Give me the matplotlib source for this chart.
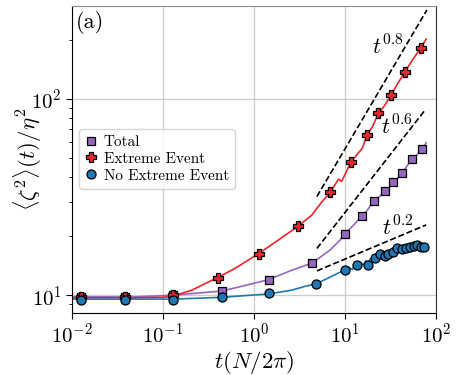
import matplotlib
matplotlib.use('Agg')
import matplotlib.pyplot as plt
from matplotlib.ticker import NullLocator
import numpy as np

plt.rcParams['font.family'] = 'serif'
plt.rcParams['font.serif'] = ['cmr10']
plt.rcParams['mathtext.fontset'] = 'cm'
plt.rcParams['axes.formatter.use_mathtext'] = True

# markers
t_total = [0.0127, 0.0386, 0.131, 0.446, 1.45, 4.39, 9.93, 15.3, 20.6, 27.6, 34.1, 42.1, 54.2, 71.0]
z_total = [9.8, 9.8, 10.0, 10.5, 12.0, 14.6, 20.5, 25.3, 30.2, 34.0, 37.6, 41.8, 49.2, 55.6]

t_ext = [0.0127, 0.0386, 0.131, 0.401, 1.13, 3.04, 6.93, 11.7, 17.4, 23.3, 32.1, 45.8, 67.8]
z_ext = [9.8, 9.8, 10.0, 12.3, 16.3, 22.4, 33.5, 47.9, 65.5, 84.5, 104.8, 137.8, 181.4]

t_noext = [0.0127, 0.0386, 0.131, 0.446, 1.45, 4.77, 9.93, 13.7, 17.7, 21.4, 24.3, 27.6,
           30.0, 33.6, 37.7, 42.1, 47.0, 52.0, 57.5, 62.5, 67.8, 74.6]
z_noext = [9.5, 9.5, 9.5, 9.8, 10.2, 11.4, 13.4, 14.2, 14.2, 15.4, 16.3, 15.8,
           16.2, 16.6, 17.3, 17.1, 17.4, 17.6, 17.8, 18.1, 17.5, 17.6]

# lines
lt_ext = [0.01, 0.05, 0.1, 0.131, 0.208, 0.401, 0.624, 1.13, 1.86, 3.04, 4.33, 5.58, 6.93,
          8.5, 9.2, 11.7, 14.0, 15.5, 17.4, 20.0, 23.3, 27.0, 32.1, 38.0, 45.8, 55.0, 67.8, 77.9]
lz_ext = [9.7, 9.7, 9.75, 9.9, 10.6, 12.3, 13.7, 16.3, 19.1, 22.4, 25.6, 29.9, 33.5,
          39.0, 38.0, 47.9, 53.0, 56.0, 65.5, 72.0, 84.5, 92.0, 104.8, 120.0, 137.8, 158.0, 181.4, 202.0]

lt_total = [0.01, 0.05, 0.131, 0.446, 0.738, 1.45, 2.61, 4.39, 6.88, 8.85, 9.93, 12.5, 15.3,
            17.5, 20.6, 24.0, 27.6, 31.0, 34.1, 38.0, 42.1, 48.0, 54.2, 62.0, 71.0, 77.9]
lz_total = [9.8, 9.8, 10.0, 10.5, 11.1, 12.0, 13.4, 14.6, 17.0, 19.1, 20.5, 22.8, 25.3,
            27.0, 30.2, 31.8, 34.0, 35.5, 37.6, 39.5, 41.8, 45.5, 49.2, 52.0, 55.6, 59.8]

lt_noext = [0.01, 0.05, 0.131, 0.446, 1.45, 2.6, 3.66, 4.77, 5.81, 7.48, 9.5, 11.0, 12.0,
            13.0, 14.0, 15.0, 16.0, 17.0, 18.0, 19.0, 20.0, 22.0, 24.0, 26.0, 28.0, 30.0,
            33.0, 36.0, 40.0, 44.0, 48.0, 52.0, 56.0, 60.0, 65.0, 70.0, 75.0, 78.0]
lz_noext = [9.55, 9.55, 9.55, 9.75, 10.15, 10.6, 11.1, 11.4, 11.9, 12.6, 13.3, 13.9, 13.5,
            14.4, 14.0, 14.6, 14.3, 15.0, 14.7, 15.3, 15.0, 15.6, 15.9, 15.6, 16.2, 16.0,
            16.6, 16.4, 17.0, 16.8, 17.4, 17.2, 17.7, 17.4, 17.9, 17.6, 18.0, 17.7]

# guide lines: t range, end values, labels
guide_t = [[4.92, 79.3], [4.92, 75.9], [4.92, 77.9]]
guide_z = [[31.8, 284.0], [17.3, 87.9], [13.3, 22.8]]
guide_lab = [r'$t^{0.8}$', r'$t^{0.6}$', r'$t^{0.2}$']
guide_pos = [(29.8, 184.0), (37.4, 72.0), (38.2, 22.0)]

c_red = '#e8252b'
c_purple = '#9467bd'
c_blue = '#1f77b4'

fig = plt.figure(figsize=(4.59, 3.75), dpi=100)
ax = fig.add_axes([0.156, 0.165, 0.794, 0.820])

ax.plot(lt_total, lz_total, '-', color=c_purple, lw=1.2)
ax.plot(lt_ext, lz_ext, '-', color=c_red, lw=1.2)
ax.plot(lt_noext, lz_noext, '-', color=c_blue, lw=1.2)

ax.plot(t_total, z_total, 's', color=c_purple, mec='k', mew=0.9, ms=6, ls='none', label='Total')
ax.plot(t_ext, z_ext, 'P', color=c_red, mec='k', mew=0.9, ms=6.5, ls='none', label='Extreme Event')
ax.plot(t_noext, z_noext, 'o', color=c_blue, mec='k', mew=0.9, ms=6.5, ls='none', label='No Extreme Event')

for gt, gz, lab, pos in zip(guide_t, guide_z, guide_lab, guide_pos):
    ax.plot(gt, gz, '--', color='k', lw=1.2)
    ax.text(pos[0], pos[1], lab, fontsize=16, ha='center', va='center')

ax.set_xscale('log')
ax.set_yscale('log')
ax.set_xlim(1e-2, 1e2)
ax.set_ylim(8.1, 299)
ax.xaxis.set_minor_locator(NullLocator())
ax.grid(True, which='major', color='#cccccc', lw=0.9)
ax.set_axisbelow(True)
ax.spines['top'].set_color('0.55')
ax.spines['right'].set_color('0.2')

ax.tick_params(axis='both', which='major', labelsize=15, length=4, direction='out', pad=3)
ax.tick_params(axis='y', which='minor', length=2.5)

ax.set_xlabel(r'$t(N/2\pi)$', fontsize=16.5, labelpad=1)
ax.set_ylabel(r'$\langle \zeta^2 \rangle (t)/\eta^2$', fontsize=16.5)
ax.yaxis.set_label_coords(-0.075, 0.5)

ax.text(0.051, 0.944, '(a)', transform=ax.transAxes, fontsize=16, ha='center', va='center')

ax.legend(loc='upper left', bbox_to_anchor=(0.021, 0.598), borderaxespad=0, fontsize=11,
          handlelength=0.8, handletextpad=0.4, labelspacing=0.2, borderpad=0.4, framealpha=0.8)

fig.savefig('out.png', dpi=100)
